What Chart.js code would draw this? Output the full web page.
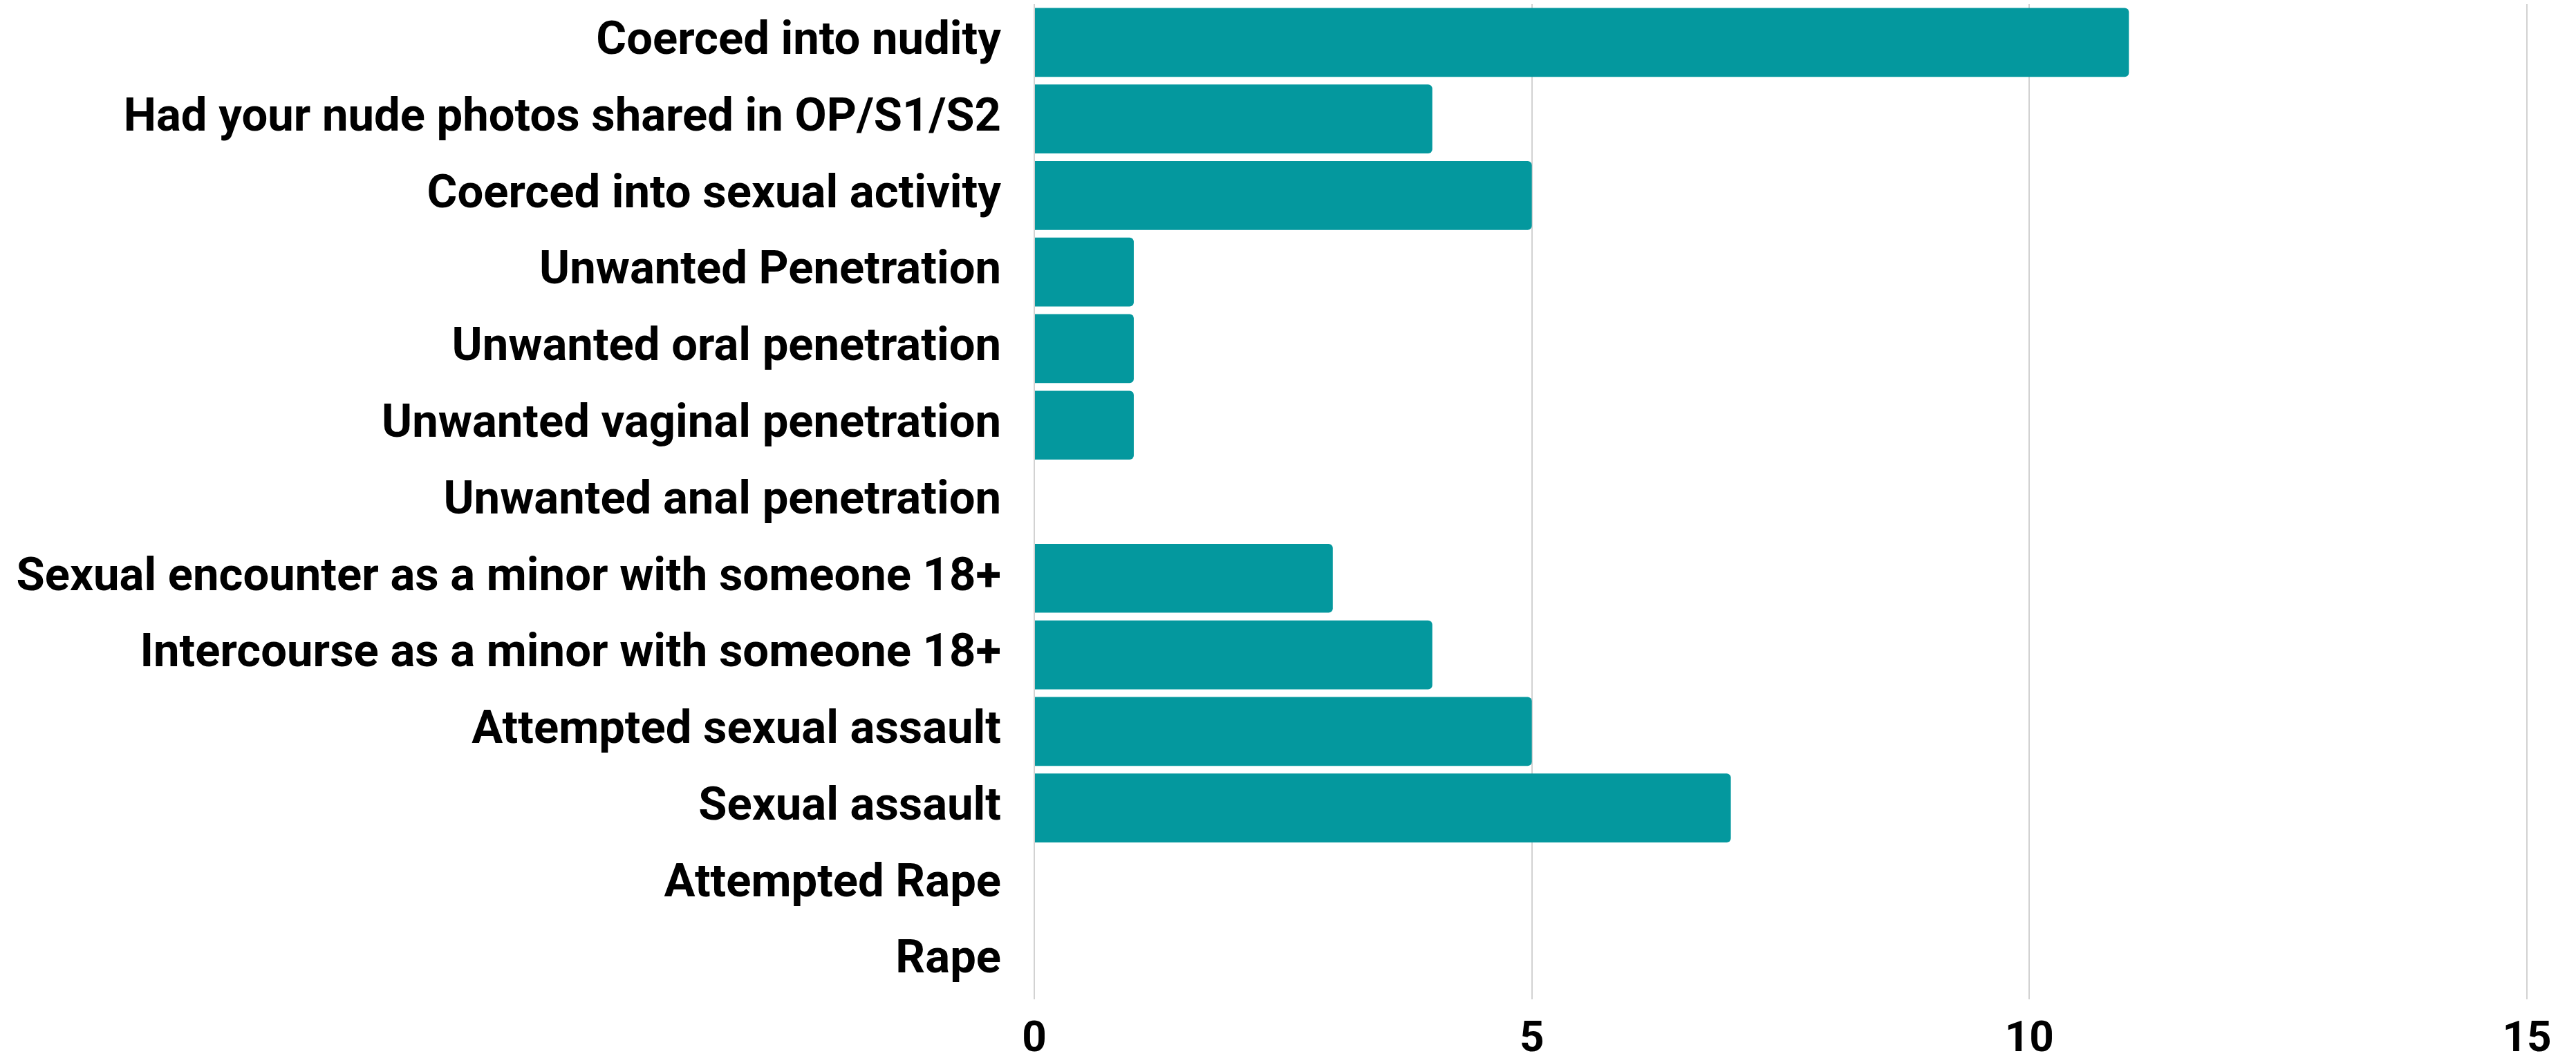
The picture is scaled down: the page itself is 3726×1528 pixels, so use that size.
<!DOCTYPE html>
<html>
<head>
<meta charset="utf-8">
<script src="https://cdn.jsdelivr.net/npm/chart.js@4/dist/chart.umd.min.js"></script>
<style>
html,body{margin:0;padding:0;background:#fff;}
canvas{display:block;}
</style>
</head>
<body>
<canvas id="c" width="3726" height="1528"></canvas>
<script>
const categories = [
  "Coerced into nudity",
  "Had your nude photos shared in OP/S1/S2",
  "Coerced into sexual activity",
  "Unwanted Penetration",
  "Unwanted oral penetration",
  "Unwanted vaginal penetration",
  "Unwanted anal penetration",
  "Sexual encounter as a minor with someone 18+",
  "Intercourse as a minor with someone 18+",
  "Attempted sexual assault",
  "Sexual assault",
  "Attempted Rape",
  "Rape"
];
const counts = [11, 4, 5, 1, 1, 1, 0, 3, 4, 5, 7, 0, 0];
const xTickValues = [0, 5, 10, 15];

const FONT = "Roboto, 'Noto Sans', sans-serif";
const mctx = document.createElement('canvas').getContext('2d');
mctx.font = "bold 64px " + FONT;
const w64 = mctx.measureText("Sexual encounter as a minor with someone 18+").width;
const labelSize = Math.round(64 * 1428 / w64);

const ctx = document.getElementById('c').getContext('2d');
new Chart(ctx, {
  type: 'bar',
  data: {
    labels: categories,
    datasets: [{
      data: counts,
      backgroundColor: '#04989e',
      borderWidth: 0,
      borderRadius: 6,
      borderSkipped: 'start',
      barPercentage: 0.9,
      categoryPercentage: 1.0
    }]
  },
  options: {
    indexAxis: 'y',
    responsive: false,
    animation: false,
    layout: { padding: { top: 6, right: 71, bottom: 0, left: 0 } },
    plugins: { legend: { display: false }, tooltip: { enabled: false } },
    scales: {
      x: {
        min: 0, max: 15,
        afterBuildTicks: (s) => { s.ticks = xTickValues.map(v => ({ value: v })); },
        afterFit: (s) => { s.height = 82; s.paddingLeft = 0; },
        border: { display: false },
        grid: { color: '#d2d2d2', lineWidth: 2, drawTicks: false },
        ticks: {
          padding: 22,
          color: '#000',
          font: { family: FONT, size: 62, weight: 'bold' }
        }
      },
      y: {
        afterFit: (s) => { s.width = 1496; s.paddingTop = 0; s.paddingBottom = 0; },
        border: { display: false },
        grid: { display: false, drawTicks: false },
        ticks: {
          padding: 48,
          color: '#000',
          font: { family: FONT, size: labelSize, weight: 'bold' }
        }
      }
    }
  }
});
</script>
</body>
</html>
